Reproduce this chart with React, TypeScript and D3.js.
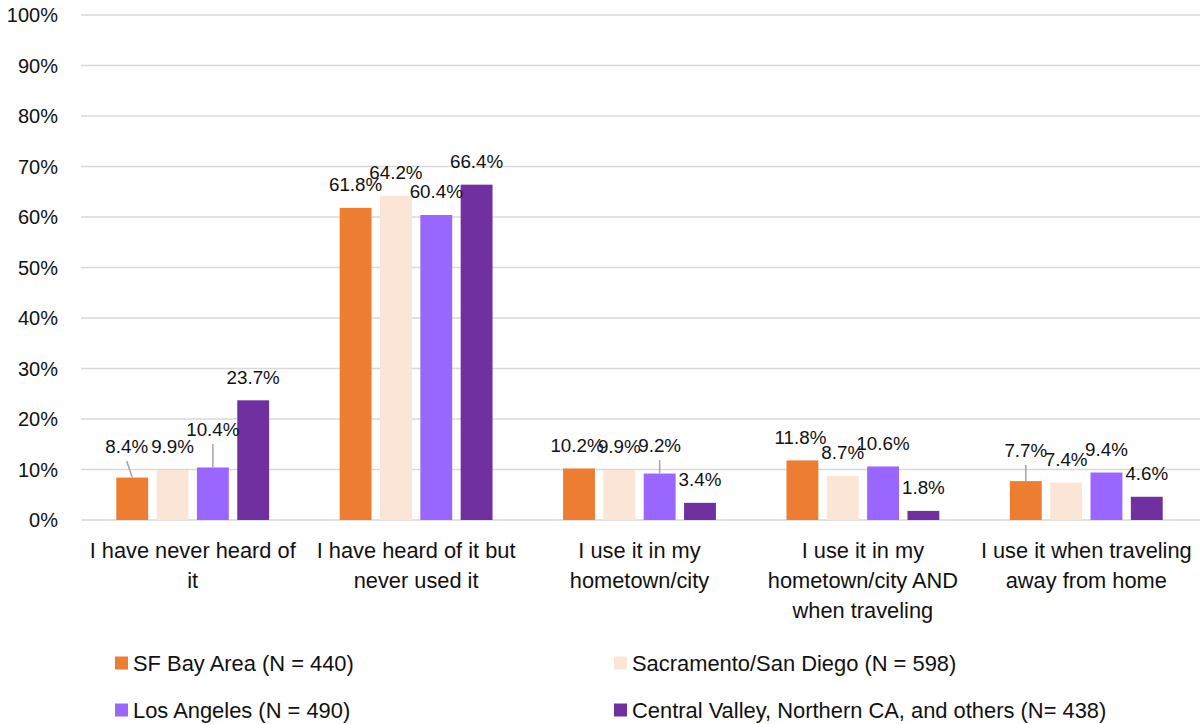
import React, { useEffect, useRef } from "react";
import * as d3 from "d3";

const categories = [
  ["I have never heard of", "it"],
  ["I have heard of it but", "never used it"],
  ["I use it in my", "hometown/city"],
  ["I use it in my", "hometown/city AND", "when traveling"],
  ["I use it when traveling", "away from home"],
];

const seriesNames = [
  "SF Bay Area (N = 440)",
  "Sacramento/San Diego (N = 598)",
  "Los Angeles (N = 490)",
  "Central Valley, Northern CA, and others (N= 438)",
];

const sfBayArea = [8.4, 61.8, 10.2, 11.8, 7.7];
const sacSanDiego = [9.9, 64.2, 9.9, 8.7, 7.4];
const losAngeles = [10.4, 60.4, 9.2, 10.6, 9.4];
const centralValley = [23.7, 66.4, 3.4, 1.8, 4.6];

const yTicks = [0, 10, 20, 30, 40, 50, 60, 70, 80, 90, 100];

const colors = ["#ED7D31", "#FBE5D6", "#9966FF", "#7030A0"];

// label nudges [dx, dy, leader] per category / series, like the moved labels in the original
const labelNudge = [
  [[-5.5, -8, 1], [0, 0, 0], [0, -15, 1], [0, 0, 0]],
  [[0, 0, 0], [0, 0, 0], [0, 0, 0], [0, 0, 0]],
  [[-2, 0, 0], [0, 0, 0], [0, -5, 1], [0, 0, 0]],
  [[-2, 0, 0], [0, 0, 0], [0, 0, 0], [0, 0, 0]],
  [[0, -7.6, 1], [0, 0, 0], [0, 0, 0], [0, 0, 0]],
];

const App = () => {
  const chartRef = useRef<HTMLDivElement>(null);

  useEffect(() => {
    const width = 1201;
    const height = 724;
    const marginLeft = 81;
    const marginRight = 3;
    const top = 15;
    const bottom = 520;
    const font = "'Liberation Sans', Arial, sans-serif";
    const ink = "#111";

    const values = [sfBayArea, sacSanDiego, losAngeles, centralValley];
    const rows = categories.map((c, i) => ({
      key: c.join(" "),
      lines: c,
      vals: values.map((v) => v[i]),
    }));

    const x0 = d3
      .scaleBand()
      .domain(rows.map((r) => r.key))
      .range([marginLeft, width - marginRight])
      .padding(0);

    const x1 = d3
      .scaleBand()
      .domain(seriesNames)
      .range([0, x0.bandwidth()])
      .paddingInner(0.21)
      .paddingOuter(0.875);

    const y = d3.scaleLinear().domain([0, 100]).range([bottom, top]);

    const el = chartRef.current!;
    el.innerHTML = "";

    const svg = d3
      .create("svg")
      .attr("width", width)
      .attr("height", height)
      .attr("viewBox", [0, 0, width, height])
      .style("position", "absolute")
      .style("left", "0px")
      .style("top", "0px")
      .style("background", "#fff")
      .style("font-family", font);

    // gridlines
    svg
      .append("g")
      .selectAll("line")
      .data(yTicks)
      .join("line")
      .attr("x1", marginLeft)
      .attr("x2", width - 1)
      .attr("y1", (d) => y(d))
      .attr("y2", (d) => y(d))
      .attr("stroke", "#D9D9D9")
      .attr("stroke-width", 1.5);

    // y axis labels
    svg
      .append("g")
      .attr("text-anchor", "end")
      .attr("fill", ink)
      .style("font-size", "20px")
      .selectAll("text")
      .data(yTicks)
      .join("text")
      .attr("x", 58)
      .attr("y", (d) => y(d))
      .attr("dy", "0.36em")
      .text((d) => d + "%");

    // bars
    const groups = svg
      .append("g")
      .selectAll("g")
      .data(rows)
      .join("g")
      .attr("transform", (d) => `translate(${x0(d.key)},0)`);

    groups
      .selectAll("rect")
      .data((d) => d.vals.map((v, i) => ({ v, name: seriesNames[i], i })))
      .join("rect")
      .attr("x", (d) => x1(d.name)!)
      .attr("y", (d) => y(d.v))
      .attr("width", x1.bandwidth())
      .attr("height", (d) => y(0) - y(d.v))
      .attr("fill", (d) => colors[d.i]);

    // data labels with leader lines
    const labels = rows.flatMap((r, ci) =>
      r.vals.map((v, si) => {
        const [dx, dy, leader] = labelNudge[ci][si];
        const cx = x0(r.key)! + x1(seriesNames[si])! + x1.bandwidth() / 2;
        const barTop = y(v);
        return { v, cx, barTop, lx: cx + dx, ly: barTop - 23.5 + dy, leader };
      })
    );

    svg
      .append("g")
      .attr("stroke", "#A6A6A6")
      .attr("stroke-width", 1.5)
      .selectAll("line")
      .data(labels.filter((d) => d.leader))
      .join("line")
      .attr("x1", (d) => d.lx)
      .attr("y1", (d) => d.ly + 15)
      .attr("x2", (d) => d.cx)
      .attr("y2", (d) => d.barTop);

    svg
      .append("g")
      .attr("text-anchor", "middle")
      .attr("fill", ink)
      .style("font-size", "18.8px")
      .selectAll("text")
      .data(labels)
      .join("text")
      .attr("x", (d) => d.lx)
      .attr("y", (d) => d.ly)
      .attr("dy", "0.36em")
      .text((d) => d.v.toFixed(1) + "%");

    // category labels
    const cat = svg
      .append("g")
      .attr("text-anchor", "middle")
      .attr("fill", ink)
      .style("font-size", "21.8px")
      .selectAll("text")
      .data(rows)
      .join("text")
      .attr("x", (d) => x0(d.key)! + x0.bandwidth() / 2)
      .attr("y", 550);
    cat
      .selectAll("tspan")
      .data((d) => d.lines)
      .join("tspan")
      .attr("x", function () {
        return (this.parentNode as SVGTextElement).getAttribute("x");
      })
      .attr("y", (d, i) => 550 + i * 30)
      .attr("dy", "0.36em")
      .text((d) => d);

    // legend
    const legendPos = [
      [115, 663],
      [614, 663],
      [115, 710],
      [614, 710],
    ];
    const legend = svg
      .append("g")
      .selectAll("g")
      .data(seriesNames)
      .join("g")
      .attr("transform", (d, i) => `translate(${legendPos[i][0]},${legendPos[i][1]})`);
    legend
      .append("rect")
      .attr("x", 0)
      .attr("y", -6.5)
      .attr("width", 13)
      .attr("height", 13)
      .attr("fill", (d, i) => colors[i]);
    legend
      .append("text")
      .attr("x", 18)
      .attr("y", 0)
      .attr("dy", "0.36em")
      .attr("fill", ink)
      .style("font-size", "21.9px")
      .text((d) => d);

    el.appendChild(svg.node()!);
  }, []);

  return <div ref={chartRef} style={{ width: 1201, height: 724 }}></div>;
};

export default App;
